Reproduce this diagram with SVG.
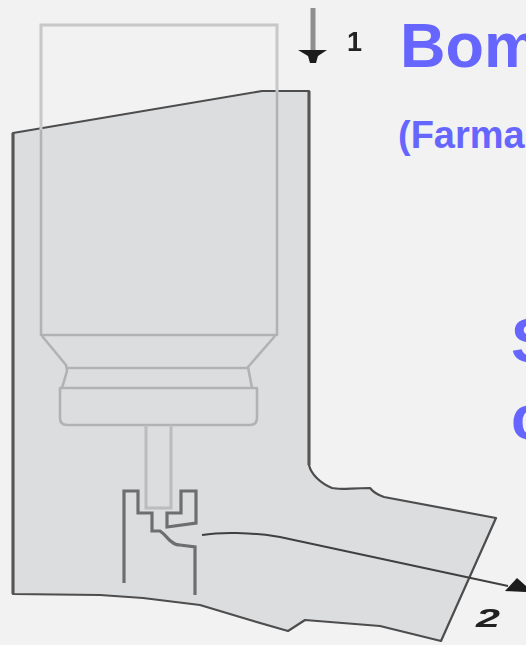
<svg xmlns="http://www.w3.org/2000/svg" width="526" height="645" viewBox="0 0 526 645">
<defs>
<filter id="soft" x="-5%" y="-5%" width="110%" height="110%"><feGaussianBlur stdDeviation="0.7"/></filter>
<filter id="softn" x="-30%" y="-30%" width="160%" height="160%"><feGaussianBlur stdDeviation="0.6"/></filter>
</defs>
<style>
.bg{fill:#f2f2f2}
.body{fill:#dcdddf;stroke:#4d4d4d;stroke-width:2.2;stroke-linejoin:round}
.edge{fill:none;stroke:#555;stroke-width:3}
.can{fill:none;stroke:#b2b2b2;stroke-width:2.6;stroke-linejoin:round}
.can2{fill:none;stroke:#c8c8c8;stroke-width:3}
.stem{fill:none;stroke:#bcbcbc;stroke-width:3}
.noz{fill:none;stroke:#6e6e6e;stroke-width:3.2;stroke-linejoin:miter}
.flow{fill:none;stroke:#3f3f3f;stroke-width:2}
.t{font-family:"Liberation Sans",Arial,sans-serif;font-weight:700;fill:#6666ff}
.n{font-family:"Liberation Sans",Arial,sans-serif;font-weight:700;fill:#222}
</style>
<rect class="bg" width="526" height="645"/>
<g id="inhaler-body" filter="url(#soft)">
<path class="body" d="M13 133 L262 91 L309 91 L309 465 C311 474 320 483 332 488 C340 490 350 488 370 488 C374 493 378 495 384 497 L496 518 L441 641 L380 626 L305 620 L288 631 L250 620 L200 605 L143 598 L100 595 L13 594 Z"/>
<path class="edge" d="M13 133 L13 594 M309 91 L309 465"/>
</g>
<g id="canister" filter="url(#soft)">
<path class="can2" d="M41 130 L41 25 L277 25 L277 92"/>
<path class="can" d="M277 92 L277 335 L41 335 L41 130"/>
<path class="can" d="M42 336 L66 365 L67 371 L62 388 M275 336 L248 367 L252 388 M67 368 L249 368"/>
<path class="can" d="M60 388 L257 388 L257 418 Q257 425 250 425 L67 425 Q60 425 60 418 Z"/>
</g>
<g id="stem" filter="url(#soft)">
<path class="stem" d="M146 425 L146 508 L171 508 L171 425"/>
</g>
<g id="nozzle" filter="url(#soft)">
<path class="noz" d="M124 583 L124 491 L138 491 L138 513 L152 513 L152 531 L160 531 C166 535 168 540 172 542 C175 545 178 545 180 545 L195 547 L195 595"/>
<path class="noz" d="M167 513 L181 513 L181 491 L196 491 L196 523 L167 527 Z"/>
</g>
<g id="connectors" filter="url(#soft)">
<path d="M313 8 L313 50" fill="none" stroke="#8f8f8f" stroke-width="5"/>
<path d="M298 50 L327 50 L318 56 L316 63 L310 63 L308 56 Z" fill="#1c1c1c"/>
<path class="flow" d="M202 535 C220 532 250 532 280 537 L508 586"/>
<path d="M505 591 L517 578 L526 586 L526 592 Z" fill="#1c1c1c"/>
</g>
<g id="labels">
<text class="n" x="347" y="51" font-size="27" filter="url(#softn)">1</text>
<text class="n" x="476" y="627" font-size="26" font-style="italic" textLength="24" lengthAdjust="spacingAndGlyphs" filter="url(#softn)">2</text>
<text class="t" x="400" y="67" font-size="63">Bom</text>
<text class="t" x="398" y="148" font-size="38">(Farma</text>
<text class="t" x="511" y="362" font-size="63">S</text>
<text class="t" x="511" y="439" font-size="63">c</text>
</g>
</svg>
